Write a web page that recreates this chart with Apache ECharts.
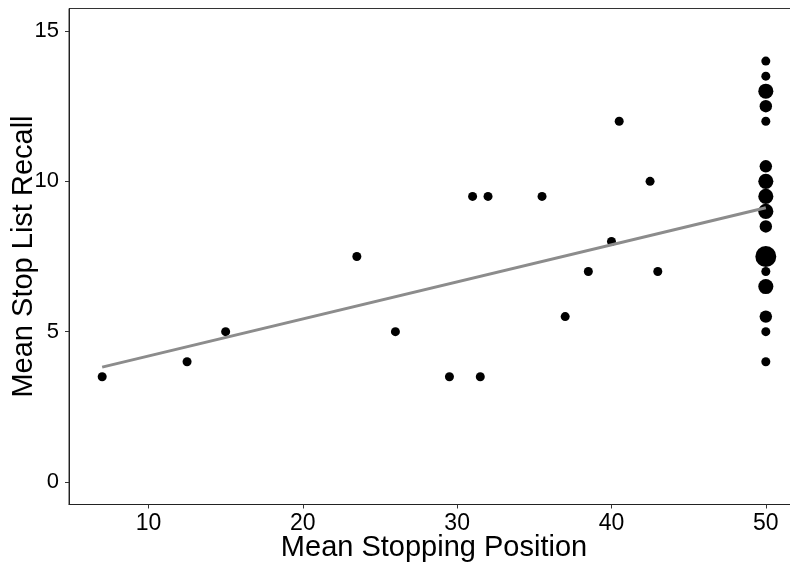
<!DOCTYPE html>
<html>
<head>
<meta charset="utf-8">
<script src="https://cdn.jsdelivr.net/npm/echarts@6/dist/echarts.min.js"></script>
<style>html,body{margin:0;padding:0;background:#fff}#c{width:790px;height:564px}</style>
</head>
<body>
<div id="c"></div>
<script>
// Scattered participants (x = mean stopping position, y = mean stop list recall)
const ptX = [7, 12.5, 15, 23.5, 26, 29.5, 31.5, 31, 32, 35.5, 37, 38.5, 40, 40.5, 42.5, 43];
const ptY = [3.5, 4, 5, 7.5, 5, 3.5, 3.5, 9.5, 9.5, 9.5, 5.5, 7, 8, 12, 10, 7];
const ptN = [1, 1, 1, 1, 1, 1, 1, 1, 1, 1, 1, 1, 1, 1, 1, 1];
// Column of participants who never stopped (x = 50), with counts
const colX = 50;
const colY = [14, 13.5, 13, 12.5, 12, 10.5, 10, 9.5, 9, 8.5, 7.5, 7, 6.5, 5.5, 5, 4];
const colN = [1, 1, 3, 2, 1, 2, 3, 3, 3, 2, 6, 1, 3, 2, 1, 1];
// Linear fit line end points
const fitX = [7, 50];
const fitY = [3.82, 9.12];
// Tick labels
const xTicks = [10, 20, 30, 40, 50];
const yTicks = [0, 5, 10, 15];

const pts = ptX.map((x, i) => [x, ptY[i], ptN[i]]).concat(colY.map((y, i) => [colX, y, colN[i]]));
const fit = fitX.map((x, i) => [x, fitY[i]]);

const font = "'Liberation Sans', Arial, sans-serif";
const chart = echarts.init(document.getElementById('c'), null, {renderer: 'canvas'});
chart.setOption({
  animation: false,
  backgroundColor: '#fff',
  grid: {left: 69, top: 8.5, width: 730, height: 496, containLabel: false, outerBoundsMode: 'none',
         show: true, borderColor: '#333', borderWidth: 1, backgroundColor: 'transparent'},
  xAxis: {
    type: 'value', min: 4.85, max: 52.15,
    name: 'Mean Stopping Position', nameLocation: 'middle', nameGap: 29, nameMoveOverlap: false,
    nameTextStyle: {fontFamily: font, fontSize: 29, color: '#000'},
    axisLine: {show: true, onZero: false, lineStyle: {color: '#222', width: 1}},
    axisTick: {show: true, length: 4, lineStyle: {color: '#333'}, customValues: xTicks},
    axisLabel: {fontFamily: font, fontSize: 23, color: '#000', margin: 8, customValues: xTicks},
    splitLine: {show: false}
  },
  yAxis: {
    type: 'value', min: -0.75, max: 15.75,
    name: 'Mean Stop List Recall', nameLocation: 'middle', nameGap: 31, nameRotate: 90, nameMoveOverlap: false,
    nameTextStyle: {fontFamily: font, fontSize: 29, color: '#000'},
    axisLine: {show: true, onZero: false, lineStyle: {color: '#222', width: 1}},
    axisTick: {show: true, length: 4, lineStyle: {color: '#333'}, customValues: yTicks},
    axisLabel: {fontFamily: font, fontSize: 22, color: '#000', margin: 10, customValues: yTicks},
    splitLine: {show: false}
  },
  series: [
    {
      type: 'scatter', data: pts, z: 2,
      symbol: 'circle',
      symbolSize: v => 9 * Math.pow(v[2], 0.47),
      itemStyle: {color: '#000', opacity: 1}
    },
    {
      type: 'line', data: fit, z: 3, symbol: 'none',
      lineStyle: {color: '#8c8c8c', width: 3}
    }
  ]
});
</script>
</body>
</html>
